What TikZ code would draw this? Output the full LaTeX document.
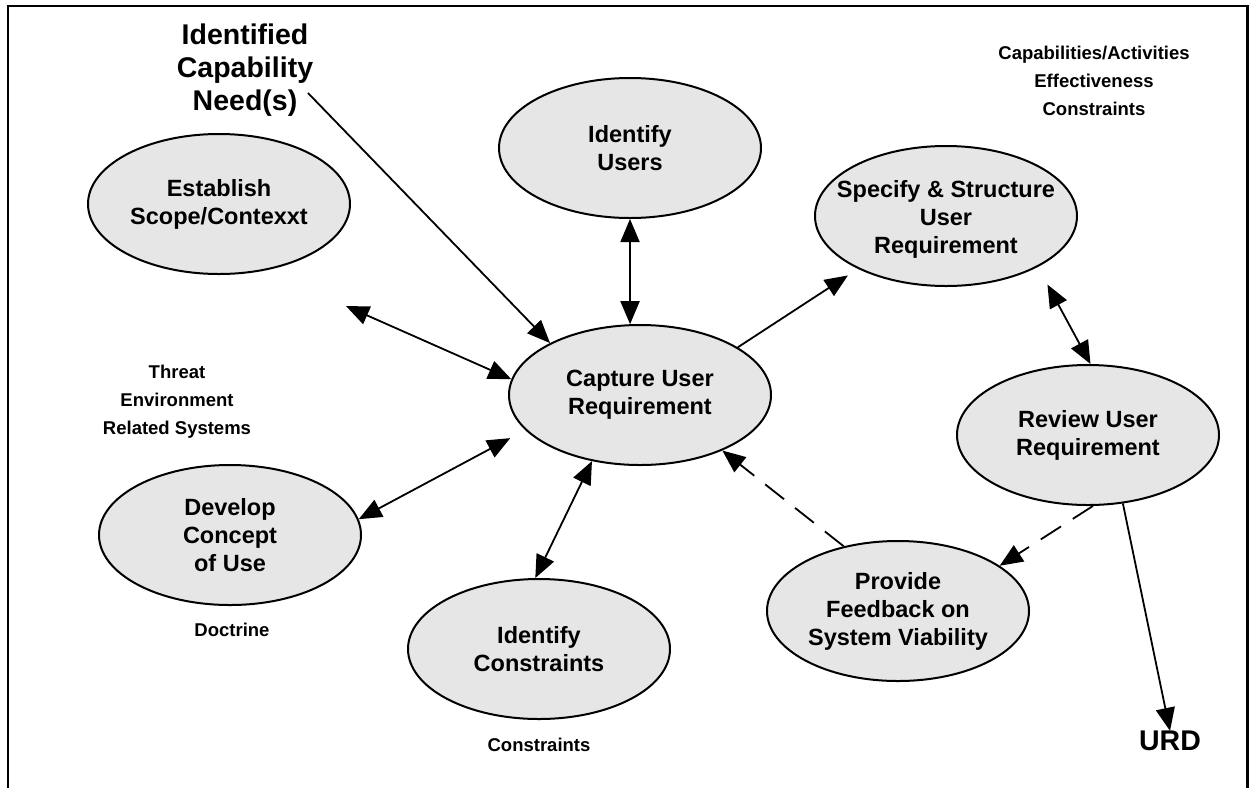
\documentclass[tikz,border=0pt]{standalone}
\usepackage{fontspec}
\setmainfont{Liberation Sans}
\usetikzlibrary{arrows.meta,shapes.geometric}
\definecolor{procfill}{HTML}{E6E6E6}
\begin{document}
\begin{tikzpicture}[x=1pt,y=-1pt,
  proc/.style={ellipse, draw, line width=2pt, fill=procfill, minimum width=262pt, minimum height=140pt, inner sep=0pt},
  ptxt/.style={align=center, inner sep=0pt, font=\fontsize{23.5}{28}\selectfont\bfseries},
  lbl/.style={align=center, inner sep=0pt, font=\fontsize{18.5}{28}\selectfont\bfseries},
  big/.style={align=center, inner sep=0pt, font=\fontsize{28.5}{33}\selectfont\bfseries},
  tip/.tip={Triangle[length=23pt,width=19pt]},
  conn/.style={line width=1.8pt, -tip},
  dconn/.style={line width=1.8pt, tip-tip},
  dashedconn/.style={conn, dash pattern=on 24pt off 14pt}
]
\useasboundingbox (0,0) rectangle (1250,788);
% frame
\draw[line width=2.5pt] (8,788) -- (8,6) -- (1247.5,6) -- (1247.5,788);

% processes
\node[proc] (users) at (630,148) {};
\node[ptxt] at (users.center) {Identify\\Users};
\node[proc] (est) at (219,204) {};
\node[ptxt] at (est.center) {Establish\\Scope/Contexxt};
\node[proc] (spec) at (946,216) {};
\node[ptxt] at ([yshift=-3pt]spec.center) {Specify \& Structure\\User\\Requirement};
\node[proc] (cap) at (640,395) {};
\node[ptxt] at (cap.center) {Capture User\\Requirement};
\node[proc] (rev) at (1088,435) {};
\node[ptxt] at (rev.center) {Review User\\Requirement};
\node[proc] (dev) at (230,535) {};
\node[ptxt] at (dev.center) {Develop\\Concept\\of Use};
\node[proc] (con) at (539,649) {};
\node[ptxt] at (con.center) {Identify\\Constraints};
\node[proc] (prov) at (898,611) {};
\node[ptxt] at (prov.center) {Provide\\Feedback on\\System Viability};

% labels
\node[big] (need) at (245,70) {Identified\\Capability\\Need(s)};
\node[big] (urd) at (1170,741) {URD};
\node[lbl] (capab) at (1094,81) {Capabilities/Activities\\Effectiveness\\Constraints};
\node[lbl] (threat) at (177,402) {Threat\\Environment\\Related Systems};
\node[lbl] (doct) at (232,630) {Doctrine};
\node[lbl] (constr) at (539,745) {Constraints};

% connectors
\coordinate (needend) at (308,93);
\draw[conn] (needend) -- (cap.150);
\draw[dconn] (users.south) -- (cap.98);
\draw[dconn, shorten <=88pt] (est.-55) -- (cap.173);
\draw[conn, shorten >=12pt] (cap.26) -- (spec.211);
\draw[dconn, shorten <=20pt] (spec.-29) -- (rev.88);
\draw[dconn, shorten >=17pt] (dev.7) -- (cap.197);
\draw[dconn] (cap.234) -- (con.93);
\draw[dashedconn] (prov.130) -- (cap.-34);
\draw[dashedconn] (rev.-86) -- (prov.24);
\draw[conn] (rev.-63) -- (urd.north);
\end{tikzpicture}
\end{document}
